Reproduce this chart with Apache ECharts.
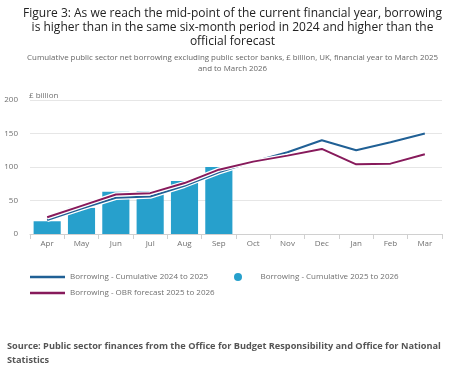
<!DOCTYPE html>
<html><head><meta charset="utf-8">
<script src="https://cdn.jsdelivr.net/npm/echarts@6/dist/echarts.min.js"></script>
<style>html,body{margin:0;padding:0;background:#fff}#c{width:465px;height:381px}</style>
</head><body><div id="c"></div>
<script>
const months = ['Apr','May','Jun','Jul','Aug','Sep','Oct','Nov','Dec','Jan','Feb','Mar'];
const cum2024 = [21, 38, 54, 56, 72, 92, 108, 122, 140, 125, 137, 150];
const obr2025 = [25, 42, 59, 61, 76, 96, 108, 117, 127, 104, 105, 119];
const cum2025 = [19, 39, 63, 64, 79, 100];
const yTicks = [0, 50, 100, 150, 200];

const F = '"Open Sans", "Noto Sans", sans-serif';
const chart = echarts.init(document.getElementById('c'));
const n1 = 'Borrowing - Cumulative 2024 to 2025';
const n2 = 'Borrowing - Cumulative 2025 to 2026';
const n3 = 'Borrowing - OBR forecast 2025 to 2026';
chart.setOption({
  animation: false,
  textStyle: {fontFamily: F},
  title: [
    {text: 'Figure 3: As we reach the mid-point of the current financial year, borrowing\nis higher than in the same six-month period in 2024 and higher than the\nofficial forecast',
     left: 'center', top: 2,
     textStyle: {fontFamily: F, fontSize: 12, fontWeight: 'normal', color: '#222', lineHeight: 14}},
    {text: 'Cumulative public sector net borrowing excluding public sector banks, £ billion, UK, financial year to March 2025\nand to March 2026',
     left: 'center', top: 47,
     textStyle: {fontFamily: F, fontSize: 7.9, fontWeight: 'normal', color: '#666', lineHeight: 11}},
    {text: 'Source: Public sector finances from the Office for Budget Responsibility and Office for National\nStatistics',
     left: 2, top: 334,
     textStyle: {fontFamily: F, fontSize: 9.2, fontWeight: 'bold', color: '#555', lineHeight: 14.5}}
  ],
  grid: {left: 30, right: 23, top: 100, bottom: 147, containLabel: false},
  xAxis: {
    type: 'category', data: months, boundaryGap: true,
    axisLine: {lineStyle: {color: '#d0d0d0'}},
    axisTick: {show: true, length: 5, lineStyle: {color: '#d0d0d0'}},
    axisLabel: {color: '#707070', fontSize: 8, margin: 6, fontFamily: F}
  },
  yAxis: {
    type: 'value', min: 0, max: 200, interval: 50,
    name: '£ billion', nameLocation: 'end', nameGap: 0,
    nameTextStyle: {align: 'left', color: '#707070', fontSize: 8, padding: [0, 0, 0, -1], fontFamily: F},
    axisLine: {show: false}, axisTick: {show: false},
    axisLabel: {color: '#707070', fontSize: 8, margin: 12, fontFamily: F,
      formatter: v => yTicks.includes(v) ? String(v) : ''},
    splitLine: {lineStyle: {color: '#e6e6e6'}}
  },
  legend: [
    {data: [{name: n1, icon: 'rect'}], left: 25, top: 268, itemWidth: 35, itemHeight: 2.5,
     textStyle: {color: '#707070', fontSize: 8, fontFamily: F}},
    {data: [{name: n2, icon: 'circle'}], left: 229, top: 268, itemWidth: 35, itemHeight: 8,
     textStyle: {color: '#707070', fontSize: 8, fontFamily: F}},
    {data: [{name: n3, icon: 'rect'}], left: 25, top: 284, itemWidth: 35, itemHeight: 2.5,
     textStyle: {color: '#707070', fontSize: 8, fontFamily: F}}
  ],
  series: [
    {name: n2, type: 'bar', data: cum2025, barCategoryGap: '21%', itemStyle: {color: '#27a0cc'}, z: 1},
    {name: 'w1', type: 'line', data: cum2024, symbol: 'none', silent: true, lineStyle: {color: '#fff', width: 4.5}, z: 2},
    {name: n1, type: 'line', data: cum2024, symbol: 'none', lineStyle: {color: '#206095', width: 2}, itemStyle: {color: '#206095'}, z: 3},
    {name: 'w2', type: 'line', data: obr2025, symbol: 'none', silent: true, lineStyle: {color: '#fff', width: 4.5}, z: 4},
    {name: n3, type: 'line', data: obr2025, symbol: 'none', lineStyle: {color: '#871a5b', width: 2}, itemStyle: {color: '#871a5b'}, z: 5}
  ]
});
</script></body></html>
